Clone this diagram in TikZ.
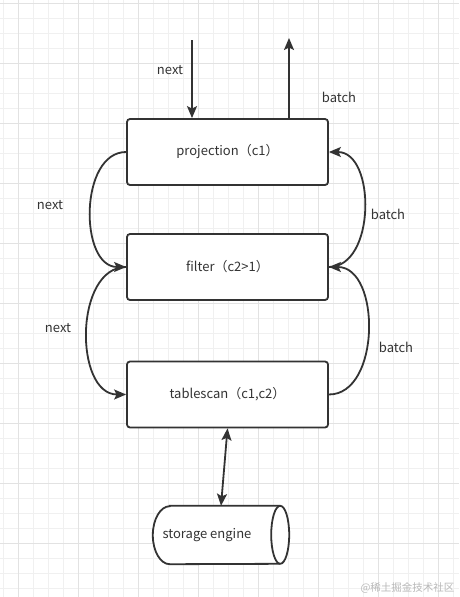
\documentclass[tikz,border=0pt]{standalone}
\usepackage{fontspec}
\setmainfont{Noto Sans CJK SC}
\usetikzlibrary{arrows.meta}
\definecolor{ink}{HTML}{333333}
\definecolor{gridminor}{HTML}{F0F0F0}
\definecolor{gridmajor}{HTML}{E2E2E2}

\begin{document}
\begin{tikzpicture}[x=1pt,y=-1pt,font=\fontsize{13}{15}\selectfont,
  >={Stealth[length=12pt,width=10pt,inset=2.5pt]},
  op/.style={draw=ink,line width=1.8pt,fill=white,rounded corners=3pt,
    minimum width=201pt,minimum height=66pt,text=ink},
  flow/.style={draw=ink,line width=1.8pt},
  lbl/.style={text=ink}]
% canvas and grid
\useasboundingbox (0,0) rectangle (459,597);
\fill[white] (0,0) rectangle (459,597);
\foreach \k in {0,...,30} \draw[gridminor,line width=1pt] (3.3+15*\k,0) -- (3.3+15*\k,597);
\foreach \k in {0,...,39} \draw[gridminor,line width=1pt] (0,3.3+15*\k) -- (459,3.3+15*\k);
\foreach \k in {0,...,7} \draw[gridmajor,line width=1pt] (18.3+60*\k,0) -- (18.3+60*\k,597);
\foreach \k in {0,...,9} \draw[gridmajor,line width=1pt] (0,3.3+60*\k) -- (459,3.3+60*\k);
% operators
\node[op] (proj) at (227.5,152) {projection（c1）};
\node[op] (filt) at (227.5,267) {filter（c2>1）};
\node[op] (scan) at (227.5,394.5) {tablescan（c1,c2）};
% storage engine drawn as a lying cylinder round an empty node
\node[minimum width=136pt,minimum height=58pt,inner sep=0pt] (store) at (221,535) {};
\draw[flow,fill=white] ([xshift=17]store.north west) -- ([xshift=-9]store.north east)
  arc[x radius=9,y radius=29,start angle=-90,end angle=90]
  -- ([xshift=17]store.south west)
  arc[x radius=17,y radius=29,start angle=90,end angle=270] -- cycle;
\draw[flow] ([xshift=-9]store.north east) arc[x radius=9,y radius=29,start angle=-90,end angle=-270];
\node[lbl] (storetxt) at (207,535) {storage engine};
% calls in and results out
\coordinate (nextin) at (192,40);
\coordinate (batchout) at (289,38);
\draw[flow,->] (nextin) -- (nextin |- proj.north);
\draw[flow,->] (batchout |- proj.north) -- (batchout);
\node[lbl] (n0) at (170,70) {next};
\node[lbl] (b0) at (339,97) {batch};
% next goes down on the left
\draw[flow,->] (proj.west) .. controls +(-47,0) and +(-47,0) .. (filt.west);
\draw[flow,->] (filt.west) .. controls +(-52,0) and +(-52,0) .. (scan.west);
\node[lbl] (n1) at (50,205) {next};
\node[lbl] (n2) at (58,328) {next};
% batch comes back up on the right
\draw[flow,->] (filt.east) .. controls +(47,0) and +(47,0) .. (proj.east);
\draw[flow,->] (scan.east) .. controls +(52,0) and +(52,0) .. (filt.east);
\node[lbl] (b1) at (388,214) {batch};
\node[lbl] (b2) at (396,347) {batch};
% storage
\draw[flow,<->] (scan.south) -- (store.north);
\node[text=gray!55,font=\fontsize{10.5}{12}\selectfont,anchor=east] (mark) at (458,588) {@稀土掘金技术社区};
\end{tikzpicture}
\end{document}
